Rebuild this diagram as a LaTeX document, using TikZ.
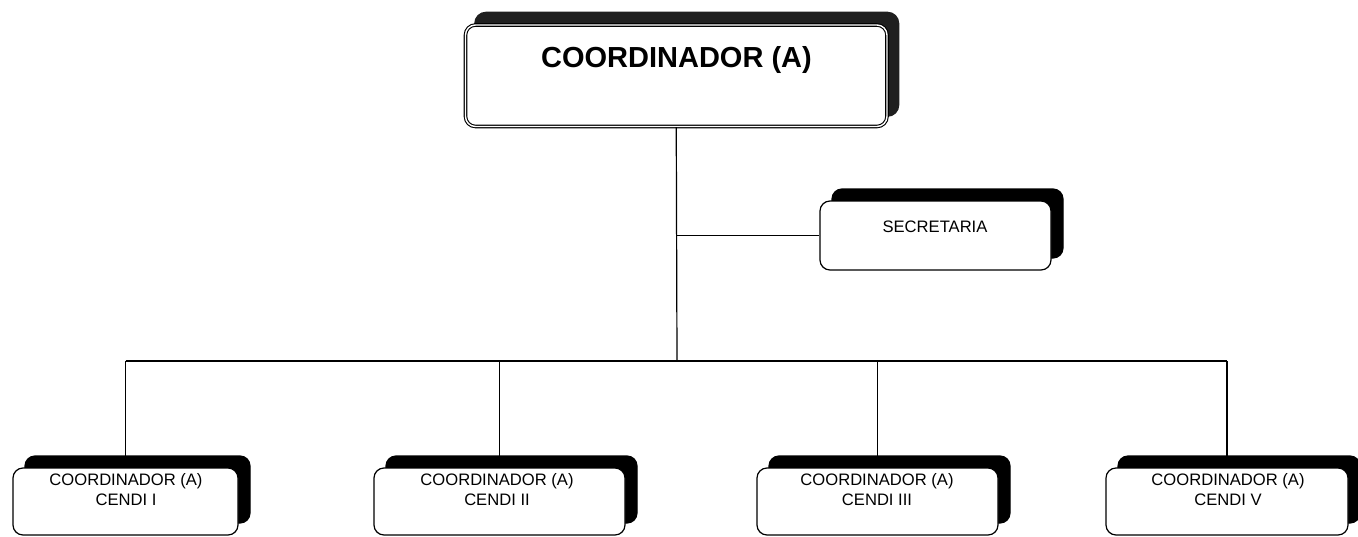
\documentclass[tikz,border=0pt]{standalone}
\usepackage{fontspec}
\setmainfont{Liberation Sans}
\usetikzlibrary{shadows}
\begin{document}
\begin{tikzpicture}[x=1pt,y=-1pt,
  conn/.style={draw=black,line width=1.2pt},
  orgbox/.style={draw=black,fill=white,line width=1.2pt,rounded corners=10pt,
     inner sep=0pt,
     general shadow={shadow xshift=12pt,shadow yshift=12pt,fill=black,draw=black,line width=1.2pt}},
  topbox/.style={draw=black,fill=white,line width=1.1pt,double=white,double distance=1.4pt,
     rounded corners=10pt,inner sep=0pt,
     general shadow={shadow xshift=10.5pt,shadow yshift=11.5pt,fill=black!88,draw=black!88,line width=3.6pt}},
  bigtxt/.style={font=\fontsize{29}{34}\selectfont\bfseries,inner sep=0pt},
  smalltxt/.style={font=\fontsize{16.6}{20}\selectfont,align=center,inner sep=0pt}
]
\useasboundingbox (0,0) rectangle (1358,536);
% boxes
\node[topbox,minimum width=421.5pt,minimum height=101.5pt] (top) at (676.25,75.75) {};
\node[bigtxt] (toptxt) at (676.5,60) {COORDINADOR (A)};
\node[orgbox,minimum width=231pt,minimum height=69pt] (sec) at (935.5,235.5) {};
\node[smalltxt] (sectxt) at (935,227) {SECRETARIA};
\node[orgbox,minimum width=225pt,minimum height=67pt] (b1) at (125.5,501.5) {};
\node[orgbox,minimum width=251pt,minimum height=67pt] (b2) at (499.5,501.5) {};
\node[orgbox,minimum width=241pt,minimum height=67pt] (b3) at (877.5,501.5) {};
\node[orgbox,minimum width=242pt,minimum height=67pt] (b4) at (1227,501.5) {};
\node[smalltxt] (t1) at (126,490) {COORDINADOR (A)\\CENDI I};
\node[smalltxt] (t2) at (497,490) {COORDINADOR (A)\\CENDI II};
\node[smalltxt] (t3) at (877,490) {COORDINADOR (A)\\CENDI III};
\node[smalltxt] (t4) at (1228,490) {COORDINADOR (A)\\CENDI V};
% connectors
\coordinate (bus) at (677,361);
\draw[conn] (top.south) -- (bus);
\draw[conn] (top.south |- sec.west) -- (sec.west);
\draw[conn] (b1.north |- bus) -- (b4.north |- bus);
\foreach \b in {b1,b2,b3,b4} \draw[conn] (\b.north |- bus) -- (\b.north);
\end{tikzpicture}
\end{document}
